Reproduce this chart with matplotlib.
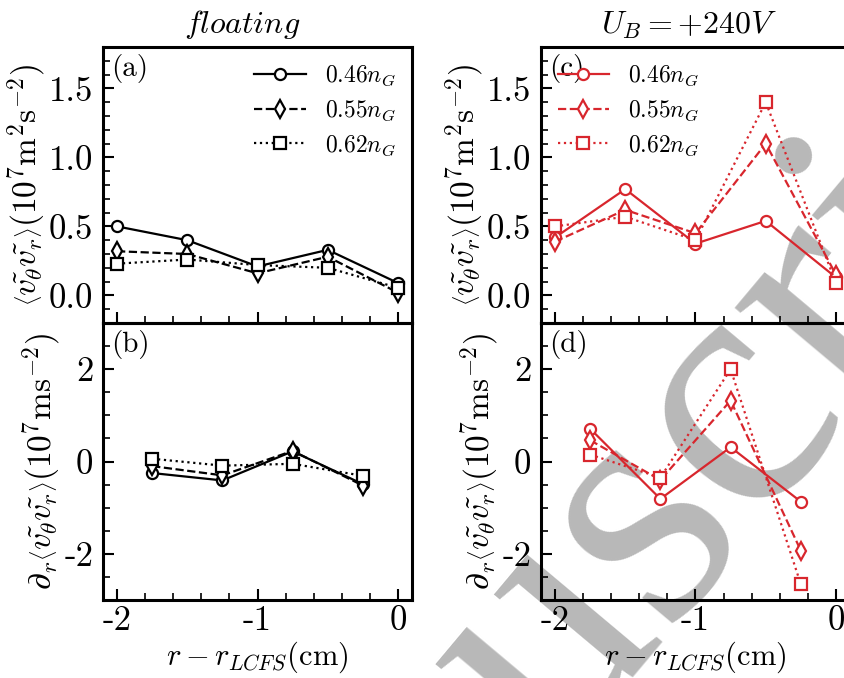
import matplotlib
matplotlib.use("Agg")
import matplotlib.pyplot as plt
from matplotlib.ticker import MultipleLocator, FixedLocator, FixedFormatter

plt.rcParams['mathtext.fontset'] = 'cm'
plt.rcParams['font.family'] = 'cmr10'
plt.rcParams['axes.unicode_minus'] = False
plt.rcParams['axes.formatter.use_mathtext'] = True

# radial positions (cm from LCFS)
r_stress = [-2.0, -1.5, -1.0, -0.5, 0.0]
r_grad = [-1.75, -1.25, -0.75, -0.25]

densities = ['0.46', '0.55', '0.62']

# Reynolds stress, floating case
stress_float_046 = [0.50, 0.40, 0.21, 0.33, 0.09]
stress_float_055 = [0.32, 0.30, 0.16, 0.28, 0.02]
stress_float_062 = [0.23, 0.26, 0.22, 0.20, 0.055]

# Reynolds stress, biased case
stress_bias_046 = [0.42, 0.77, 0.375, 0.54, 0.13]
stress_bias_055 = [0.39, 0.62, 0.45, 1.10, 0.15]
stress_bias_062 = [0.50, 0.57, 0.40, 1.40, 0.09]

# radial gradient of Reynolds stress, floating case
grad_float_046 = [-0.25, -0.41, 0.22, -0.49]
grad_float_055 = [-0.10, -0.30, 0.23, -0.52]
grad_float_062 = [0.06, -0.09, -0.05, -0.31]

# radial gradient of Reynolds stress, biased case
grad_bias_046 = [0.71, -0.81, 0.31, -0.87]
grad_bias_055 = [0.46, -0.40, 1.32, -1.93]
grad_bias_062 = [0.15, -0.35, 2.00, -2.66]

x_ticks = [-2, -1, 0]
x_ticklabels = ['-2', '-1', '0']
top_ticks = [0.0, 0.5, 1.0, 1.5]
top_ticklabels = ['0.0', '0.5', '1.0', '1.5']
bot_ticks = [-2, 0, 2]
bot_ticklabels = ['-2', '0', '2']

W, H = 845, 678
fig = plt.figure(figsize=(W / 100, H / 100), dpi=100)

def frac(x0, y0, x1, y1):
    return [x0 / W, 1 - y1 / H, (x1 - x0) / W, (y1 - y0) / H]

ax_a = fig.add_axes(frac(103, 47, 412, 323))
ax_b = fig.add_axes(frac(103, 323, 412, 600))
ax_c = fig.add_axes(frac(541, 47, 850, 323))
ax_d = fig.add_axes(frac(541, 323, 850, 600))

styles = [('-', 'o'), ('--', 'd'), (':', 's')]

def draw(ax, x, series, color):
    handles = []
    for (ls, mk), ys, d in zip(styles, series, densities):
        h, = ax.plot(x, ys, linestyle=ls, marker=mk, color=color, lw=1.6,
                     markersize=9 if mk == 'd' else 8, markerfacecolor='white',
                     markeredgewidth=1.6, label=r'$%sn_G$' % d)
        handles.append(h)
    return handles

red = '#d8262d'
ha = draw(ax_a, r_stress, [stress_float_046, stress_float_055, stress_float_062], 'black')
draw(ax_b, r_grad, [grad_float_046, grad_float_055, grad_float_062], 'black')
hc = draw(ax_c, r_stress, [stress_bias_046, stress_bias_055, stress_bias_062], red)
draw(ax_d, r_grad, [grad_bias_046, grad_bias_055, grad_bias_062], red)

for ax in (ax_a, ax_b, ax_c, ax_d):
    ax.set_facecolor('none')
    ax.set_xlim(-2.1, 0.1)
    ax.xaxis.set_major_locator(FixedLocator(x_ticks))
    ax.xaxis.set_minor_locator(MultipleLocator(0.2))
    ax.tick_params(which='both', direction='in', top=False, right=False,
                   labelsize=25, pad=7)
    ax.tick_params(axis='x', pad=4)
    ax.tick_params(which='major', length=8, width=1.5)
    ax.tick_params(which='minor', length=5, width=1.2)
    for s in ax.spines.values():
        s.set_linewidth(2.2)

for ax in (ax_a, ax_c):
    ax.set_ylim(-0.2, 1.8)
    ax.yaxis.set_major_locator(FixedLocator(top_ticks))
    ax.yaxis.set_major_formatter(FixedFormatter(top_ticklabels))
    ax.yaxis.set_minor_locator(MultipleLocator(0.1))
    ax.tick_params(axis='x', labelbottom=False)
    ax.set_ylabel(r'$\left\langle\tilde{v_\theta}\tilde{v_r}\right\rangle(10^7\mathrm{m}^2\mathrm{s}^{-2})$',
                  fontsize=24, labelpad=1)

for ax in (ax_b, ax_d):
    ax.set_ylim(-3, 3)
    ax.yaxis.set_major_locator(FixedLocator(bot_ticks))
    ax.yaxis.set_major_formatter(FixedFormatter(bot_ticklabels))
    ax.yaxis.set_minor_locator(MultipleLocator(0.5))
    ax.xaxis.set_major_formatter(FixedFormatter(x_ticklabels))
    ax.set_xlabel(r'$r-r_{LCFS}(\mathrm{cm})$', fontsize=22, labelpad=2)
    ax.set_ylabel(r'$\partial_r\left\langle\tilde{v_\theta}\tilde{v_r}\right\rangle(10^7\mathrm{ms}^{-2})$',
                  fontsize=24, labelpad=1)

for ax, lab in zip((ax_a, ax_b, ax_c, ax_d), ('(a)', '(b)', '(c)', '(d)')):
    ax.text(0.025, 0.975, lab, transform=ax.transAxes, ha='left', va='top', fontsize=21)

ax_a.legend(handles=ha, loc='upper right', frameon=False, fontsize=17,
            handlelength=2.2, borderaxespad=0.3, labelspacing=0.45)
ax_c.legend(handles=hc, loc='upper left', frameon=False, fontsize=17,
            handlelength=2.2, borderaxespad=0.3, labelspacing=0.45)

ax_a.set_title(r'$floating$', fontsize=23, pad=10, x=0.45)
ax_c.set_title(r'$U_B=+240V$', fontsize=23, pad=10, x=0.48)

# diagonal grey watermark behind the data
fig.text(143 / W, 1 - 1250 / H, 'Manuscript', fontsize=250, color='#b8b8b8',
         family='Liberation Serif', rotation=50, ha='left', va='baseline',
         rotation_mode='anchor', zorder=-1)

fig.savefig('out.png', dpi=100)
